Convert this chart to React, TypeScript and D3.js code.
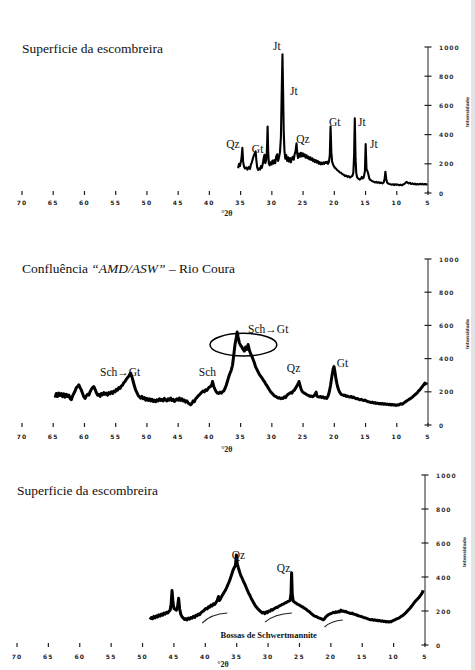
import React from "react";
import * as d3 from "d3";

type Pt = [number, number];

const xTicks = [70, 65, 60, 55, 50, 45, 40, 35, 30, 25, 20, 15, 10, 5];
const yTicks = [0, 200, 400, 600, 800, 1000];
const axisTitle = "°2θ";
const yTitle = "Intensidade";

const title1 = "Superficie da escombreira";
const title2a = "Confluência ";
const title2b = "“AMD/ASW”";
const title2c = " – Rio Coura";
const title3 = "Superficie da escombreira";
const bossasText = "Bossas de Schwertmannite";

// Panel 1: [2θ, intensity]
const p1: Pt[] = [
  [35.4, 170], [35.25, 200], [35.1, 185], [34.95, 215], [34.85, 240], [34.72, 310], [34.6, 215], [34.45, 180],
  [34.3, 168], [34.1, 175], [33.9, 160], [33.7, 178], [33.5, 165], [33.35, 195], [33.2, 210], [33.05, 235],
  [32.9, 255], [32.75, 270], [32.6, 285], [32.48, 225], [32.35, 175], [32.2, 158], [32.05, 168], [31.9, 160],
  [31.75, 185], [31.6, 172], [31.45, 200], [31.3, 240], [31.18, 262], [31.05, 205], [30.9, 225], [30.78, 300],
  [30.68, 455], [30.58, 280], [30.48, 205], [30.35, 190], [30.2, 210], [30.05, 195], [29.9, 222], [29.75, 200],
  [29.6, 225], [29.45, 205], [29.3, 250], [29.15, 265], [29.0, 220], [28.85, 245], [28.7, 280], [28.55, 380],
  [28.42, 690], [28.3, 950], [28.2, 700], [28.1, 420], [27.98, 290], [27.85, 235], [27.7, 260], [27.55, 220],
  [27.4, 245], [27.25, 215], [27.1, 240], [26.95, 210], [26.8, 235], [26.65, 248], [26.5, 228], [26.35, 265],
  [26.2, 290], [26.05, 340], [25.92, 265], [25.8, 240], [25.65, 270], [25.5, 248], [25.35, 275], [25.2, 250],
  [25.05, 272], [24.9, 252], [24.75, 265], [24.6, 242], [24.45, 258], [24.3, 238], [24.15, 250], [24.0, 230],
  [23.85, 245], [23.7, 226], [23.55, 238], [23.4, 218], [23.25, 230], [23.1, 212], [22.95, 225], [22.8, 208],
  [22.65, 220], [22.5, 200], [22.35, 212], [22.2, 196], [22.05, 208], [21.9, 198], [21.75, 210], [21.6, 200],
  [21.45, 212], [21.3, 205], [21.15, 215], [21.0, 200], [20.85, 215], [20.72, 260], [20.6, 455], [20.48, 280],
  [20.35, 215], [20.2, 195], [20.05, 182], [19.9, 172], [19.7, 165], [19.5, 155], [19.3, 150], [19.1, 140],
  [18.9, 138], [18.7, 128], [18.5, 126], [18.3, 116], [18.1, 120], [17.9, 110], [17.7, 116], [17.5, 106],
  [17.3, 112], [17.1, 118], [16.95, 140], [16.83, 260], [16.72, 512], [16.6, 230], [16.48, 135], [16.35, 108],
  [16.2, 100], [16.05, 96], [15.9, 92], [15.75, 98], [15.6, 110], [15.45, 100], [15.3, 105], [15.1, 150],
  [14.98, 336], [14.85, 165], [14.7, 150], [14.55, 128], [14.4, 100], [14.25, 90], [14.1, 86], [13.9, 80],
  [13.7, 78], [13.5, 72], [13.3, 76], [13.1, 70], [12.9, 74], [12.7, 68], [12.5, 72], [12.3, 66],
  [12.1, 72], [11.95, 95], [11.82, 146], [11.7, 100], [11.55, 72], [11.4, 66], [11.2, 62], [11.0, 60],
  [10.8, 57], [10.6, 60], [10.4, 55], [10.2, 60], [10.0, 56], [9.8, 58], [9.6, 53], [9.4, 57], [9.2, 52],
  [9.0, 58], [8.8, 62], [8.6, 70], [8.45, 76], [8.3, 72], [8.1, 66], [7.9, 70], [7.7, 62], [7.5, 66],
  [7.3, 60], [7.1, 64], [6.9, 58], [6.7, 62], [6.5, 58], [6.3, 63], [6.1, 59], [5.9, 63], [5.7, 58],
  [5.5, 62], [5.3, 58], [5.1, 61],
];

const p2: Pt[] = [
  [64.7, 165], [64.5, 190], [64.3, 172], [64.1, 192], [63.9, 178], [63.7, 190], [63.5, 170], [63.3, 188],
  [63.1, 168], [62.9, 185], [62.7, 172], [62.5, 180], [62.3, 160], [62.1, 152], [61.9, 175], [61.7, 190],
  [61.5, 205], [61.3, 225], [61.1, 232], [60.9, 242], [60.7, 225], [60.5, 210], [60.3, 190], [60.1, 170],
  [59.9, 160], [59.7, 175], [59.5, 185], [59.3, 180], [59.1, 200], [58.9, 215], [58.7, 225], [58.5, 232],
  [58.3, 215], [58.1, 195], [57.9, 180], [57.7, 185], [57.5, 172], [57.3, 190], [57.1, 182], [56.9, 195],
  [56.7, 185], [56.5, 192], [56.3, 180], [56.1, 195], [55.9, 188], [55.7, 200], [55.5, 190], [55.3, 205],
  [55.1, 200], [54.9, 215], [54.7, 210], [54.5, 225], [54.3, 220], [54.1, 235], [53.9, 240], [53.7, 255],
  [53.5, 262], [53.3, 275], [53.1, 285], [52.9, 295], [52.7, 308], [52.6, 312], [52.4, 290], [52.2, 262],
  [52.0, 235], [51.8, 210], [51.6, 195], [51.4, 178], [51.2, 170], [51.0, 162], [50.8, 172], [50.6, 158],
  [50.4, 165], [50.2, 150], [50.0, 160], [49.8, 148], [49.6, 158], [49.4, 145], [49.2, 155], [49.0, 142],
  [48.8, 150], [48.6, 140], [48.4, 152], [48.2, 145], [48.0, 158], [47.8, 148], [47.6, 155], [47.4, 145],
  [47.2, 160], [47.0, 150], [46.8, 145], [46.6, 158], [46.4, 150], [46.2, 162], [46.0, 148], [45.8, 155],
  [45.6, 142], [45.4, 150], [45.2, 158], [45.0, 150], [44.8, 162], [44.6, 148], [44.4, 158], [44.2, 145],
  [44.0, 150], [43.8, 138], [43.6, 145], [43.4, 132], [43.2, 128], [43.0, 122], [42.8, 130], [42.6, 145],
  [42.4, 140], [42.2, 158], [42.0, 165], [41.8, 175], [41.6, 182], [41.4, 190], [41.2, 198], [41.0, 205],
  [40.8, 200], [40.6, 212], [40.4, 208], [40.2, 220], [40.0, 228], [39.8, 232], [39.6, 245], [39.5, 262],
  [39.3, 232], [39.1, 215], [38.9, 200], [38.7, 192], [38.5, 190], [38.3, 198], [38.1, 192], [37.9, 200],
  [37.7, 205], [37.5, 220], [37.3, 240], [37.1, 265], [36.9, 290], [36.7, 312], [36.5, 330], [36.3, 360],
  [36.1, 420], [35.9, 485], [35.7, 525], [35.55, 560], [35.4, 530], [35.2, 495], [35.0, 480], [34.8, 470],
  [34.6, 455], [34.4, 445], [34.2, 470], [34.0, 455], [33.8, 485], [33.6, 450], [33.4, 430], [33.2, 415],
  [33.0, 395], [32.8, 375], [32.6, 350], [32.4, 335], [32.2, 320], [32.0, 305], [31.8, 295], [31.6, 285],
  [31.4, 272], [31.2, 262], [31.0, 248], [30.8, 238], [30.6, 225], [30.4, 212], [30.2, 200], [30.0, 192],
  [29.8, 185], [29.6, 175], [29.4, 172], [29.2, 168], [29.0, 162], [28.8, 165], [28.6, 158], [28.4, 162],
  [28.2, 160], [28.0, 170], [27.8, 165], [27.6, 178], [27.4, 185], [27.2, 190], [27.0, 195], [26.8, 192],
  [26.6, 205], [26.4, 210], [26.2, 222], [26.0, 235], [25.8, 248], [25.65, 262], [25.5, 240], [25.3, 215],
  [25.1, 200], [24.9, 195], [24.7, 190], [24.5, 185], [24.3, 180], [24.1, 178], [23.9, 172], [23.7, 175],
  [23.5, 170], [23.3, 175], [23.1, 185], [22.9, 198], [22.8, 175], [22.6, 170], [22.4, 168], [22.2, 172],
  [22.0, 165], [21.8, 170], [21.6, 162], [21.4, 165], [21.2, 160], [21.0, 175], [20.8, 200], [20.6, 240],
  [20.4, 290], [20.2, 335], [20.05, 352], [19.9, 320], [19.7, 270], [19.5, 235], [19.3, 210], [19.1, 195],
  [18.9, 185], [18.7, 182], [18.5, 178], [18.3, 180], [18.1, 172], [17.9, 175], [17.7, 170], [17.5, 168],
  [17.3, 172], [17.1, 165], [16.9, 168], [16.7, 162], [16.5, 158], [16.3, 160], [16.1, 155], [15.9, 152],
  [15.7, 155], [15.5, 150], [15.3, 148], [15.1, 150], [14.9, 145], [14.7, 142], [14.5, 140], [14.3, 138],
  [14.1, 135], [13.9, 138], [13.7, 132], [13.5, 135], [13.3, 130], [13.1, 132], [12.9, 128], [12.7, 130],
  [12.5, 126], [12.3, 130], [12.1, 125], [11.9, 128], [11.7, 124], [11.5, 126], [11.3, 122], [11.1, 125],
  [10.9, 120], [10.7, 124], [10.5, 120], [10.3, 122], [10.1, 118], [9.9, 122], [9.7, 120], [9.5, 125],
  [9.3, 128], [9.1, 125], [8.9, 132], [8.7, 138], [8.5, 142], [8.3, 148], [8.1, 152], [7.9, 158],
  [7.7, 162], [7.5, 168], [7.3, 175], [7.1, 182], [6.9, 188], [6.7, 195], [6.5, 205], [6.3, 212],
  [6.1, 222], [5.9, 232], [5.7, 242], [5.5, 252], [5.3, 248], [5.2, 242],
];

const p3: Pt[] = [
  [48.8, 150], [48.6, 162], [48.4, 155], [48.2, 168], [48.0, 160], [47.8, 172], [47.6, 165], [47.4, 178],
  [47.2, 170], [47.0, 182], [46.8, 175], [46.6, 188], [46.4, 182], [46.2, 192], [46.0, 188], [45.8, 198],
  [45.6, 205], [45.45, 240], [45.3, 320], [45.15, 250], [45.0, 215], [44.8, 210], [44.6, 205], [44.4, 230],
  [44.25, 275], [44.1, 215], [43.9, 180], [43.7, 165], [43.5, 158], [43.3, 150], [43.1, 155], [42.9, 148],
  [42.7, 158], [42.5, 152], [42.3, 162], [42.1, 158], [41.9, 168], [41.7, 162], [41.5, 175], [41.3, 172],
  [41.1, 182], [40.9, 178], [40.7, 190], [40.5, 195], [40.3, 200], [40.1, 208], [39.9, 215], [39.7, 212],
  [39.5, 225], [39.3, 222], [39.1, 235], [38.9, 230], [38.7, 242], [38.5, 238], [38.3, 250], [38.1, 262],
  [37.9, 285], [37.75, 262], [37.6, 270], [37.4, 285], [37.2, 298], [37.0, 310], [36.8, 322], [36.6, 338],
  [36.4, 355], [36.2, 372], [36.0, 392], [35.8, 415], [35.6, 438], [35.4, 455], [35.2, 468], [35.05, 530],
  [34.9, 475], [34.7, 450], [34.5, 425], [34.3, 405], [34.1, 390], [33.9, 372], [33.7, 358], [33.5, 340],
  [33.3, 322], [33.1, 305], [32.9, 292], [32.7, 275], [32.5, 262], [32.3, 248], [32.1, 235], [31.9, 225],
  [31.7, 215], [31.5, 208], [31.3, 200], [31.1, 195], [30.9, 188], [30.7, 192], [30.5, 185], [30.3, 195],
  [30.1, 190], [29.9, 200], [29.7, 198], [29.5, 208], [29.3, 205], [29.1, 212], [28.9, 215], [28.7, 222],
  [28.5, 220], [28.3, 228], [28.1, 232], [27.9, 235], [27.7, 240], [27.5, 242], [27.3, 248], [27.1, 250],
  [26.9, 255], [26.7, 258], [26.5, 262], [26.35, 300], [26.25, 425], [26.15, 300], [26.0, 258], [25.8, 252],
  [25.6, 248], [25.4, 242], [25.2, 238], [25.0, 235], [24.8, 230], [24.6, 225], [24.4, 222], [24.2, 215],
  [24.0, 212], [23.8, 205], [23.6, 200], [23.4, 195], [23.2, 188], [23.0, 182], [22.8, 175], [22.6, 170],
  [22.4, 168], [22.2, 165], [22.0, 160], [21.8, 158], [21.6, 155], [21.4, 152], [21.2, 148], [21.0, 155],
  [20.8, 165], [20.6, 172], [20.4, 178], [20.2, 182], [20.0, 185], [19.8, 188], [19.6, 192], [19.4, 190],
  [19.2, 195], [19.0, 192], [18.8, 198], [18.6, 195], [18.4, 205], [18.2, 198], [18.0, 200], [17.8, 195],
  [17.6, 198], [17.4, 192], [17.2, 190], [17.0, 188], [16.8, 185], [16.6, 188], [16.4, 182], [16.2, 180],
  [16.0, 178], [15.8, 175], [15.6, 172], [15.4, 170], [15.2, 168], [15.0, 165], [14.8, 162], [14.6, 160],
  [14.4, 158], [14.2, 155], [14.0, 152], [13.8, 150], [13.6, 148], [13.4, 150], [13.2, 146], [13.0, 148],
  [12.8, 144], [12.6, 146], [12.4, 142], [12.2, 144], [12.0, 140], [11.8, 142], [11.6, 138], [11.4, 140],
  [11.2, 136], [11.0, 138], [10.8, 135], [10.6, 138], [10.4, 136], [10.2, 142], [10.0, 145], [9.8, 148],
  [9.6, 152], [9.4, 155], [9.2, 158], [9.0, 162], [8.8, 168], [8.6, 172], [8.4, 178], [8.2, 185],
  [8.0, 192], [7.8, 200], [7.6, 208], [7.4, 215], [7.2, 225], [7.0, 235], [6.8, 245], [6.6, 255],
  [6.4, 262], [6.2, 270], [6.0, 278], [5.8, 288], [5.6, 298], [5.4, 310], [5.3, 322],
];

type Lab = { text: string; t: number; i: number };
const p1Labels: Lab[] = [
  { text: "Qz", t: 37.3, i: 308 },
  { text: "Gt", t: 33.2, i: 274 },
  { text: "Jt", t: 29.8, i: 979 },
  { text: "Jt", t: 27.1, i: 671 },
  { text: "Qz", t: 26.1, i: 342 },
  { text: "Gt", t: 20.85, i: 459 },
  { text: "Jt", t: 16.2, i: 459 },
  { text: "Jt", t: 14.3, i: 308 },
];
const p2Labels: Lab[] = [
  { text: "Sch→Gt", t: 57.5, i: 295 },
  { text: "Sch", t: 41.7, i: 295 },
  { text: "Sch→Gt", t: 33.8, i: 554 },
  { text: "Qz", t: 27.6, i: 319 },
  { text: "Gt", t: 19.6, i: 349 },
];
const p3Labels: Lab[] = [
  { text: "Qz", t: 35.8, i: 506 },
  { text: "Qz", t: 28.6, i: 429 },
];
// ellipse around the main Sch->Gt hump: centre 2θ, centre intensity, half-width 2θ, half-height intensity
const p2Ellipse = [34.55, 484, 5.35, 68];
// schwertmannite humps: [2θ start, I start, 2θ end, I end]
const p3Bossas: [number, number, number, number][] = [
  [40.5, 129, 36.5, 188],
  [30.5, 135, 26.2, 188],
  [21.0, 106, 18.1, 147],
];
const p3BossasLabel = { t: 29.9, i: 41 };

const serif = "'Liberation Serif', 'Times New Roman', serif";
const tickFont = "'DejaVu Sans', sans-serif";

type PanelProps = {
  data: Pt[];
  labels: Lab[];
  x0: number;
  x1: number;
  yBase: number;
  yTop: number;
  title: React.ReactNode;
  titleY: number;
  strokeW: number;
  gid: string;
  tickDy: number;
  titleDy: number;
  children?: (x: d3.ScaleLinear<number, number>, y: d3.ScaleLinear<number, number>) => React.ReactNode;
};

function Panel({ data, labels, x0, x1, yBase, yTop, title, titleY, strokeW, gid, tickDy, titleDy, children }: PanelProps) {
  const x = d3.scaleLinear().domain([70, 5]).range([x0, x1]);
  const y = d3.scaleLinear().domain([0, 1000]).range([yBase, yTop]);
  const line = d3.line<Pt>().x((d) => x(d[0])).y((d) => y(d[1]));
  const yMid = (yBase + yTop) / 2;
  return (
    <g>
      <defs>
        <linearGradient id={gid} x1="0" x2="1" y1="0" y2="0">
          <stop offset="0" stopColor="#777" />
          <stop offset="0.45" stopColor="#bbb" />
          <stop offset="0.55" stopColor="#222" />
          <stop offset="1" stopColor="#000" />
        </linearGradient>
      </defs>
      <text x={x0} y={titleY} fontFamily={serif} fontSize={13.5} fill="#111">
        {title}
      </text>
      {/* x axis */}
      <line x1={x0} x2={x1 + 4} y1={yBase} y2={yBase} stroke={`url(#${gid})`} strokeWidth={1.2} />
      {xTicks.map((t) => (
        <g key={t}>
          <line x1={x(t)} x2={x(t)} y1={yBase - 2} y2={yBase + 2} stroke="#222" strokeWidth={1.2} />
          <text
            x={x(t)}
            y={yBase + tickDy}
            textAnchor="middle"
            fontFamily={tickFont}
            fontWeight="bold"
            fontSize={6}
            letterSpacing={1.2}
            fill="#222"
          >
            {t}
          </text>
        </g>
      ))}
      <text x={x(37.2)} y={yBase + titleDy} textAnchor="middle" fontFamily={serif} fontWeight="bold" fontSize={8} fill="#222">
        {axisTitle}
      </text>
      {/* y axis */}
      <line x1={x1} x2={x1} y1={yBase} y2={yTop} stroke="#222" strokeWidth={1} />
      {yTicks.map((v) => (
        <g key={v}>
          <line x1={x1 - 3.5} x2={x1 + 3.5} y1={y(v)} y2={y(v)} stroke="#222" strokeWidth={1.2} />
          <text
            x={x1 + 11}
            y={y(v) + 2.5}
            fontFamily={tickFont}
            fontWeight="bold"
            fontSize={6}
            letterSpacing={1}
            fill="#333"
          >
            {v}
          </text>
        </g>
      ))}
      <text
        transform={`translate(${x1 + 41},${yMid - 8}) rotate(-90)`}
        textAnchor="middle"
        fontFamily={tickFont}
        fontWeight="bold"
        fontSize={4.5}
        fill="#333"
      >
        {yTitle}
      </text>
      <path d={line(data) || ""} fill="none" stroke="#000" strokeWidth={strokeW} strokeLinejoin="round" />
      {labels.map((l, k) => (
        <text key={k} x={x(l.t)} y={y(l.i)} fontFamily={serif} fontSize={11.5} fill="#111">
          {l.text}
        </text>
      ))}
      {children ? children(x, y) : null}
    </g>
  );
}

export default function App() {
  return (
    <svg width={475} height={670} style={{ position: "absolute", left: 0, top: 0, background: "#fff" }}>
      <rect x={0} y={0} width={475} height={670} fill="#fff" />
      <rect x={471} y={0} width={4} height={670} fill="#e4e4e4" />
      <Panel
        data={p1}
        labels={p1Labels}
        x0={22}
        x1={428}
        yBase={193}
        yTop={47}
        title={title1}
        titleY={53}
        strokeW={2.1}
        gid="g1"
        tickDy={12}
        titleDy={23}
      />
      <Panel
        data={p2}
        labels={p2Labels}
        x0={22}
        x1={428}
        yBase={425}
        yTop={259}
        title={
          <>
            {title2a}
            <tspan fontStyle="italic">{title2b}</tspan>
            {title2c}
          </>
        }
        titleY={273}
        strokeW={3}
        gid="g2"
        tickDy={14}
        titleDy={27}
      >
        {(x, y) => (
          <ellipse
            cx={x(p2Ellipse[0])}
            cy={y(p2Ellipse[1])}
            rx={Math.abs(x(p2Ellipse[0] + p2Ellipse[2]) - x(p2Ellipse[0]))}
            ry={Math.abs(y(p2Ellipse[1] + p2Ellipse[3]) - y(p2Ellipse[1]))}
            fill="none"
            stroke="#000"
            strokeWidth={1.5}
          />
        )}
      </Panel>
      <Panel
        data={p3}
        labels={p3Labels}
        x0={17}
        x1={425}
        yBase={645}
        yTop={475}
        title={title3}
        titleY={495}
        strokeW={3}
        gid="g3"
        tickDy={14}
        titleDy={22}
      >
        {(x, y) => (
          <g>
            {p3Bossas.map((b, k) => {
              const xa = x(b[0]);
              const ya = y(b[1]);
              const xb = x(b[2]);
              const yb = y(b[3]);
              const cx = xa + (xb - xa) * 0.35;
              const cy = Math.min(ya, yb) + 1;
              return (
                <path
                  key={k}
                  d={`M${xa},${ya} Q${cx},${cy} ${xb},${yb}`}
                  fill="none"
                  stroke="#222"
                  strokeWidth={1.1}
                />
              );
            })}
            <text
              x={x(p3BossasLabel.t)}
              y={y(p3BossasLabel.i)}
              textAnchor="middle"
              fontFamily={serif}
              fontWeight="bold"
              fontSize={8.5}
              fill="#111"
            >
              {bossasText}
            </text>
          </g>
        )}
      </Panel>
    </svg>
  );
}
